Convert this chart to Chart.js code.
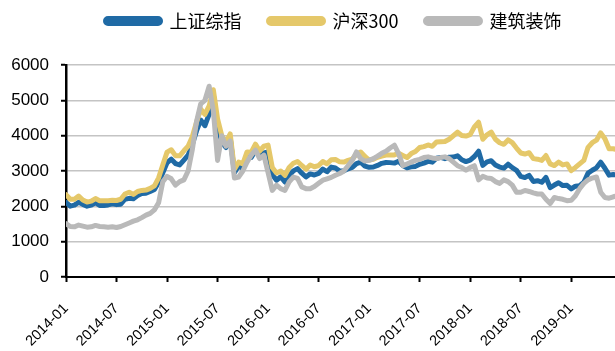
<!DOCTYPE html>
<html>
<head>
<meta charset="utf-8">
<script src="https://cdn.jsdelivr.net/npm/chart.js@4"></script>
<style>
  html, body { margin: 0; padding: 0; background: #fff; }
  #wrap { width: 615px; height: 351px; overflow: hidden; }
</style>
</head>
<body>
<div id="wrap"><canvas id="c" width="615" height="351"></canvas></div>
<script>
// Half-monthly closes, Jan 2014 - Jun 2019 (start of Jan 2014, then mid-month and month-end)
const seriesNames = ['上证综指', '沪深300', '建筑装饰'];

const sseComposite = [
  2110,
  2005, 2033, 2115, 2056, 2004, 2033, 2105, 2026, 2025, 2039, 2070, 2048,
  2060, 2201, 2226, 2217, 2307, 2364, 2373, 2420, 2478, 2682, 2953, 3234,
  3336, 3210, 3173, 3310, 3449, 3747, 4135, 4441, 4283, 4611, 5166, 4277,
  3823, 3663, 3954, 2950, 3152, 3053, 3391, 3383, 3580, 3445, 3510, 3539,
  2900, 2738, 2836, 2688, 2870, 3004, 3067, 2938, 2835, 2917, 2887, 2930,
  3054, 2979, 3110, 3085, 3002, 3005, 3063, 3100, 3207, 3250, 3140, 3104,
  3112, 3159, 3217, 3242, 3237, 3223, 3276, 3155, 3090, 3117, 3130, 3192,
  3222, 3273, 3251, 3360, 3385, 3349, 3390, 3393, 3430, 3317, 3266, 3307,
  3410, 3560, 3160, 3259, 3290, 3169, 3110, 3082, 3192, 3095, 3021, 2847,
  2814, 2876, 2705, 2725, 2681, 2821, 2530, 2603, 2668, 2588, 2594, 2494,
  2570, 2585, 2682, 2940, 3021, 3091, 3250, 3078, 2883, 2899, 2888, 2979
];

const csi300 = [
  2330,
  2200, 2203, 2290, 2178, 2120, 2146, 2220, 2160, 2160, 2160, 2170, 2165,
  2200, 2350, 2400, 2338, 2420, 2450, 2460, 2508, 2580, 2808, 3180, 3533,
  3600, 3434, 3430, 3572, 3700, 3970, 4380, 4750, 4600, 4840, 5300, 4473,
  4000, 3816, 4050, 3050, 3250, 3203, 3540, 3534, 3760, 3566, 3700, 3731,
  3100, 2946, 3000, 2877, 3100, 3218, 3270, 3156, 3050, 3169, 3120, 3154,
  3270, 3203, 3320, 3327, 3260, 3253, 3300, 3336, 3480, 3538, 3410, 3310,
  3330, 3387, 3420, 3452, 3450, 3456, 3500, 3439, 3380, 3492, 3550, 3666,
  3690, 3737, 3700, 3822, 3830, 3836, 3900, 3998, 4100, 4006, 3990, 4030,
  4250, 4380, 3900, 4023, 4100, 3899, 3800, 3756, 3880, 3802, 3650, 3510,
  3480, 3517, 3350, 3335, 3300, 3438, 3200, 3154, 3250, 3173, 3200, 3011,
  3100, 3201, 3300, 3670, 3800, 3872, 4080, 3913, 3630, 3630, 3600, 3826
];

const construction = [
  1510,
  1430, 1420, 1470, 1440, 1410, 1420, 1460, 1430, 1420, 1410, 1420, 1400,
  1430, 1480, 1530, 1580, 1620, 1680, 1750, 1800, 1900, 2100, 2700, 2850,
  2780, 2600, 2700, 2750, 3000, 3600, 4400, 4900, 5000, 5400, 4700, 3300,
  4000, 3700, 3850, 2800, 2830, 3000, 3250, 3450, 3590, 3350, 3450, 2950,
  2450, 2600, 2500, 2450, 2690, 2830, 2790, 2550, 2500, 2500, 2560, 2650,
  2740, 2780, 2820, 2880, 2930, 3000, 3150, 3300, 3540, 3350, 3280, 3300,
  3350, 3420, 3500, 3560, 3650, 3730, 3490, 3150, 3200, 3250, 3300, 3330,
  3380, 3400, 3370, 3350, 3380, 3400, 3350, 3250, 3150, 3100, 3020, 3100,
  3150, 2750, 2850, 2800, 2790, 2700, 2650, 2750, 2700, 2600, 2400, 2400,
  2450, 2420, 2380, 2350, 2350, 2200, 2080, 2250, 2220, 2200, 2160, 2170,
  2300, 2500, 2650, 2750, 2800, 2830, 2400, 2250, 2230, 2270, 2300, 2300
];

// x-axis labels, one every six months starting 2014-01
const tickLabels = ['2014-01', '2014-07', '2015-01', '2015-07', '2016-01', '2016-07',
                    '2017-01', '2017-07', '2018-01', '2018-07', '2019-01'];
const yTicks = [0, 1000, 2000, 3000, 4000, 5000, 6000];

const colors = ['#1f6aa5', '#e5c86a', '#b9b9b9'];

// x value is months since 2014-01, points every half month
const toPoints = arr => arr.map((v, i) => ({ x: i * 0.5, y: v }));
const seriesData = [sseComposite, csi300, construction];

const datasets = seriesData.map((arr, i) => ({
  label: seriesNames[i],
  data: toPoints(arr),
  borderColor: colors[i],
  backgroundColor: colors[i],
  borderWidth: 5,
  pointRadius: 0,
  tension: 0,
  borderJoinStyle: 'round',
  borderCapStyle: 'round',
  order: 3 - i
}));

// legend: fixed height so the plot starts below it, shifted a little to the right
const legendSpacing = {
  id: 'legendSpacing',
  beforeInit(chart) {
    const fit = chart.legend.fit;
    chart.legend.fit = function () {
      fit.call(this);
      this.height = 80;
    };
  },
  afterLayout(chart) {
    chart.legend.left += 26;
    chart.legend.right += 26;
  }
};

new Chart(document.getElementById('c'), {
  type: 'line',
  data: { datasets },
  plugins: [legendSpacing],
  options: {
    responsive: false,
    animation: false,
    devicePixelRatio: 1,
    layout: { padding: { top: -15, left: 0, right: 0, bottom: 0 } },
    plugins: {
      tooltip: { enabled: false },
      legend: {
        position: 'top',
        labels: {
          boxWidth: 55,
          boxHeight: 5,
          useBorderRadius: true,
          borderRadius: 2.5,
          padding: 27,
          color: '#000',
          font: { family: '"Noto Sans CJK SC", sans-serif', size: 18 },
          sort: (a, b) => a.datasetIndex - b.datasetIndex
        }
      }
    },
    scales: {
      x: {
        type: 'linear',
        min: 0,
        max: 65.2,
        afterBuildTicks: axis => { axis.ticks = tickLabels.map((_, i) => ({ value: i * 6 })); },
        afterFit: axis => { axis.height = 74; },
        grid: { drawOnChartArea: false, drawTicks: true, tickLength: 5, tickColor: '#000', tickWidth: 2 },
        border: { color: '#000', width: 2 },
        ticks: {
          autoSkip: false,
          minRotation: 45,
          maxRotation: 45,
          padding: 18,
          color: '#000',
          font: { family: '"Liberation Sans", Arial, sans-serif', size: 14.5 },
          callback: v => tickLabels[Math.round(v / 6)]
        }
      },
      y: {
        min: 0,
        max: 6000,
        afterBuildTicks: axis => { axis.ticks = yTicks.map(v => ({ value: v })); },
        afterFit: axis => { axis.width = 66; },
        grid: { color: '#c4c4c4', lineWidth: 1.5, drawTicks: true, tickLength: 5, tickColor: '#000', tickWidth: 2 },
        border: { color: '#000', width: 2.5 },
        ticks: {
          padding: 12,
          color: '#000',
          font: { family: '"Liberation Sans", Arial, sans-serif', size: 17 },
          callback: v => String(v)
        }
      }
    }
  }
});
</script>
</body>
</html>
